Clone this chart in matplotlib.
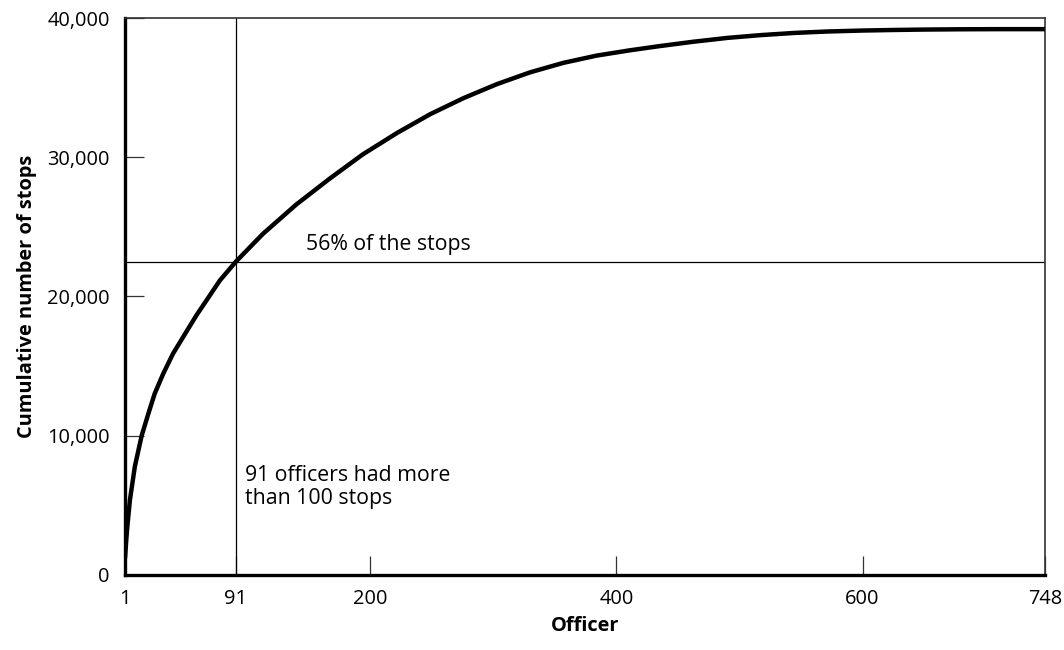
import matplotlib
matplotlib.use("Agg")
import matplotlib.pyplot as plt
from matplotlib.ticker import FuncFormatter

# cumulative stops by officer rank
officers = [1, 2, 3, 5, 9, 14.5, 20, 25, 32, 40, 50, 59, 67, 78, 91,
            113, 140, 167, 194, 222, 249, 276, 303, 330, 357, 384, 411,
            435, 462, 490, 517, 545, 571, 600, 625, 650, 679, 710, 748]
cum_stops = [1200, 2500, 3600, 5400, 7800, 10000, 11600, 13000, 14450, 15900,
             17350, 18650, 19700, 21150, 22500,
             24500, 26600, 28450, 30200, 31750, 33100, 34250, 35250, 36100,
             36780, 37300, 37680,
             37980, 38290, 38570, 38770, 38930, 39030, 39100, 39140, 39170,
             39190, 39200, 39200]

x_ticks = [1, 91, 200, 400, 600, 748]
y_ticks = [0, 10000, 20000, 30000, 40000]

cutoff_officer = 91
cutoff_stops = 22500

plt.rcParams["font.family"] = ["Open Sans", "DejaVu Sans"]

fig = plt.figure(figsize=(10.64, 6.5), dpi=100)
ax = fig.add_axes([0.1175, 0.1154, 0.8645, 0.8569])

ax.plot(officers, cum_stops, color="black", lw=3.2, solid_capstyle="butt",
        solid_joinstyle="round", zorder=3)

# reference lines
ax.axvline(cutoff_officer, color="black", lw=0.9, zorder=2)
ax.axhline(cutoff_stops, color="black", lw=0.9, zorder=2)

ax.text(148, 23340, "56% of the stops", fontsize=15.3, va="baseline", ha="left")
ax.text(98.4, 6750, "91 officers had more", fontsize=15.3, va="baseline", ha="left")
ax.text(98.4, 5100, "than 100 stops", fontsize=15.3, va="baseline", ha="left")

ax.set_xlim(1, 748)
ax.set_ylim(0, 40000)
ax.set_xticks(x_ticks)
ax.set_yticks(y_ticks)
ax.yaxis.set_major_formatter(FuncFormatter(lambda v, p: f"{int(v):,}"))

ax.tick_params(axis="both", direction="in", length=14, width=0.9,
               labelsize=14.4, color="#333333")
ax.tick_params(axis="y", pad=11)
ax.tick_params(axis="x", pad=10)

for side in ["left", "bottom"]:
    ax.spines[side].set_linewidth(2.4)
for side in ["top", "right"]:
    ax.spines[side].set_linewidth(1.2)
    ax.spines[side].set_color("#333333")

ax.set_xlabel("Officer", fontsize=14.4, fontweight="bold", labelpad=5)
ax.set_ylabel("Cumulative number of stops", fontsize=14.4, fontweight="bold", labelpad=7)

fig.savefig("out.png", dpi=100)
